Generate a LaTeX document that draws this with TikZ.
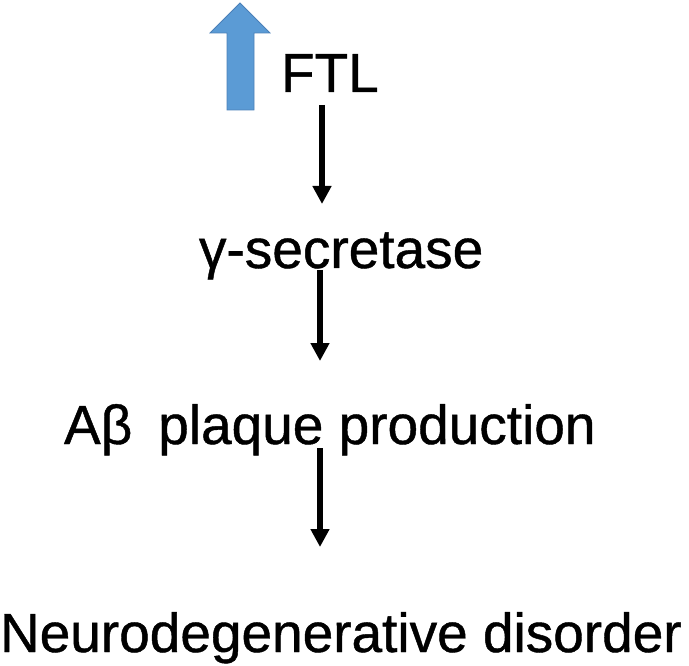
\documentclass[tikz,border=0pt]{standalone}
\usepackage{fontspec}
\setmainfont{Liberation Sans}[FakeBold=0.8,AutoFakeBold=0.8]
\newfontfamily\heavyfont{Liberation Sans}[FakeBold=0.8]
\usetikzlibrary{arrows.meta}
\definecolor{upblue}{HTML}{5B9BD5}
\definecolor{upedge}{HTML}{4A80B8}
\tikzset{
  lbl/.style={anchor=base west, inner sep=0pt, outer sep=0pt, font=\heavyfont\fontsize{55}{60}\selectfont},
  flow/.style={line width=5.5pt, -{Triangle[width=18pt,length=18pt]}},
  uparrow/.style={fill=upblue, draw=upedge, line width=0.8pt, line join=miter}
}
\begin{document}
\begin{tikzpicture}[x=1pt,y=-1pt]
\useasboundingbox (0,0) rectangle (689,666);
% text nodes
\node[lbl] (ftl) at (281,92) {FTL};
\node[lbl] (gs) at (199,268) {γ-secretase};
\node[lbl] (ab) at (64,444) {Aβ\hspace{26pt}plaque production};
\node[lbl] (nd) at (0,652) {Neurodegenerative disorder};
% up arrow
\draw[uparrow] (227,110) -- (227,33) -- (210,33) -- (240,3) -- (270,33) -- (254,33) -- (254,110) -- cycle;
% connector endpoints
\coordinate (s1) at (322,105);
\coordinate (e1) at (322,204);
\coordinate (s2) at (320,270);
\coordinate (e2) at (320,361);
\coordinate (s3) at (320,448);
\coordinate (e3) at (320,547);
\draw[flow] (s1) -- (e1);
\draw[flow] (s2) -- (e2);
\draw[flow] (s3) -- (e3);
\end{tikzpicture}
\end{document}
